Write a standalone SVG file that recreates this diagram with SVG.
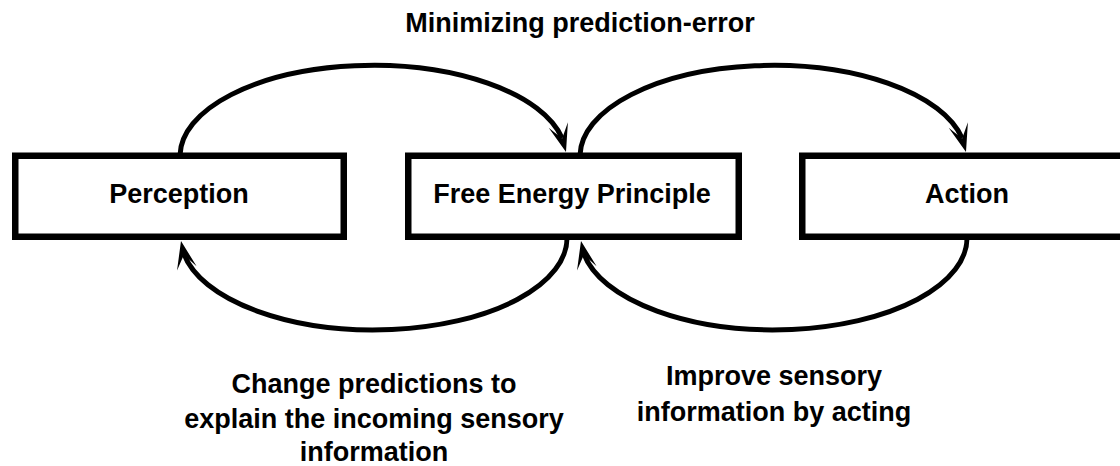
<svg xmlns="http://www.w3.org/2000/svg" width="1120" height="466" viewBox="0 0 1120 466">
  <style>
    .box { fill: #ffffff; stroke: #000000; stroke-width: 6.5; }
    .arc { fill: none; stroke: #000000; stroke-width: 5; }
    .lbl { font-family: "Liberation Sans", Arial, sans-serif; font-weight: bold; font-size: 27px; fill: #000000; text-anchor: middle; }
  </style>
  <defs>
    <path id="head" d="M0,0 L-10,-28 L0,-14 L10,-28 Z" fill="#000000"/>
  </defs>
  <rect x="0" y="0" width="1120" height="466" fill="#ffffff"/>
  <g id="connectors">
    <path class="arc" d="M180,155 A193,91 0 0 1 562,138"/>
    <use href="#head" transform="translate(566,152) rotate(-16)"/>
    <path class="arc" d="M580,155 A193,91 0 0 1 962,138"/>
    <use href="#head" transform="translate(966,152) rotate(-16)"/>
    <path class="arc" d="M567,237 A193,92 0 0 1 184,254"/>
    <use href="#head" transform="translate(181,241) rotate(168)"/>
    <path class="arc" d="M967,237 A193,92 0 0 1 584,254"/>
    <use href="#head" transform="translate(581,241) rotate(168)"/>
  </g>
  <g id="perception">
    <rect class="box" x="15.25" y="155.75" width="328.5" height="81"/>
    <text class="lbl" x="179" y="203">Perception</text>
  </g>
  <g id="fep">
    <rect class="box" x="408.25" y="155.75" width="330.5" height="81"/>
    <text class="lbl" x="572" y="203">Free Energy Principle</text>
  </g>
  <g id="action">
    <rect class="box" x="802.25" y="155.75" width="400" height="81"/>
    <text class="lbl" x="967" y="203">Action</text>
  </g>
  <g id="labels">
    <text class="lbl" x="580" y="32">Minimizing prediction-error</text>
    <text class="lbl" x="374" y="393">Change predictions to</text>
    <text class="lbl" x="374" y="428">explain the incoming sensory</text>
    <text class="lbl" x="374" y="461">information</text>
    <text class="lbl" x="774" y="385">Improve sensory</text>
    <text class="lbl" x="774" y="421">information by acting</text>
  </g>
</svg>
